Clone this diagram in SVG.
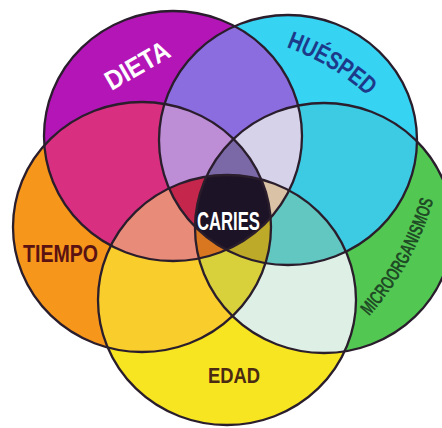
<svg xmlns="http://www.w3.org/2000/svg" width="442" height="428" viewBox="0 0 442 428">
<style>
.ol{fill:none;stroke:#2a1d2c;stroke-width:2.3}
.lbl{font-family:"Liberation Sans",Arial,sans-serif;font-weight:bold}
</style>
<defs>
<ellipse id="eD" cx="173" cy="136" rx="129" ry="125"/>
<ellipse id="eH" cx="288" cy="140" rx="129" ry="125"/>
<ellipse id="eM" cx="324" cy="228" rx="129" ry="125"/>
<ellipse id="eE" cx="227" cy="300" rx="129" ry="125"/>
<ellipse id="eT" cx="142" cy="227" rx="129" ry="125"/>
<clipPath id="cD"><use href="#eD"/></clipPath>
<clipPath id="cH"><use href="#eH"/></clipPath>
<clipPath id="cM"><use href="#eM"/></clipPath>
<clipPath id="cE"><use href="#eE"/></clipPath>
<clipPath id="cT"><use href="#eT"/></clipPath>
<path id="pH" d="M205,32 A250,250 0 0 1 419.3,160.8"/>
<path id="pM" d="M321.8,359.2 A300,300 0 0 0 444.8,137.4"/>
</defs>
<rect width="442" height="428" fill="#ffffff"/>
<g id="regions">
<use href="#eD" fill="#B315B6"/>
<use href="#eH" fill="#36D3F3"/>
<use href="#eM" fill="#52C853"/>
<use href="#eE" fill="#F6E520"/>
<use href="#eT" fill="#F6961B"/>
<g clip-path="url(#cD)"><use href="#eH" fill="#8B6DE0"/></g>
<g clip-path="url(#cD)"><use href="#eM" fill="#C8A8E0"/></g>
<g clip-path="url(#cD)"><use href="#eE" fill="#E99080"/></g>
<g clip-path="url(#cD)"><use href="#eT" fill="#D92F80"/></g>
<g clip-path="url(#cH)"><use href="#eM" fill="#3CCBE3"/></g>
<g clip-path="url(#cH)"><use href="#eE" fill="#90D8C8"/></g>
<g clip-path="url(#cH)"><use href="#eT" fill="#A28FD0"/></g>
<g clip-path="url(#cM)"><use href="#eE" fill="#DEF0E6"/></g>
<g clip-path="url(#cM)"><use href="#eT" fill="#C8C060"/></g>
<g clip-path="url(#cE)"><use href="#eT" fill="#F9CD2C"/></g>
<g clip-path="url(#cD)"><g clip-path="url(#cH)"><use href="#eT" fill="#BD8ED6"/></g></g>
<g clip-path="url(#cD)"><g clip-path="url(#cH)"><use href="#eM" fill="#D6D2EA"/></g></g>
<g clip-path="url(#cD)"><g clip-path="url(#cH)"><use href="#eE" fill="#D0A8C0"/></g></g>
<g clip-path="url(#cD)"><g clip-path="url(#cT)"><use href="#eE" fill="#E88B79"/></g></g>
<g clip-path="url(#cD)"><g clip-path="url(#cT)"><use href="#eM" fill="#C88080"/></g></g>
<g clip-path="url(#cD)"><g clip-path="url(#cM)"><use href="#eE" fill="#E0C8B0"/></g></g>
<g clip-path="url(#cH)"><g clip-path="url(#cM)"><use href="#eE" fill="#62C6C1"/></g></g>
<g clip-path="url(#cH)"><g clip-path="url(#cM)"><use href="#eT" fill="#9090C0"/></g></g>
<g clip-path="url(#cH)"><g clip-path="url(#cT)"><use href="#eE" fill="#C8C080"/></g></g>
<g clip-path="url(#cT)"><g clip-path="url(#cE)"><use href="#eM" fill="#D8D13C"/></g></g>
<g clip-path="url(#cD)"><g clip-path="url(#cH)"><g clip-path="url(#cT)"><use href="#eM" fill="#7B69A7"/></g></g></g>
<g clip-path="url(#cD)"><g clip-path="url(#cH)"><g clip-path="url(#cT)"><use href="#eE" fill="#C5264C"/></g></g></g>
<g clip-path="url(#cD)"><g clip-path="url(#cH)"><g clip-path="url(#cM)"><use href="#eE" fill="#D9C2A5"/></g></g></g>
<g clip-path="url(#cD)"><g clip-path="url(#cT)"><g clip-path="url(#cE)"><use href="#eM" fill="#D8771F"/></g></g></g>
<g clip-path="url(#cH)"><g clip-path="url(#cM)"><g clip-path="url(#cE)"><use href="#eT" fill="#BDAA28"/></g></g></g>
<g clip-path="url(#cD)"><g clip-path="url(#cH)"><g clip-path="url(#cM)"><g clip-path="url(#cE)"><use href="#eT" fill="#1C1326"/></g></g></g></g>
</g>
<g id="tiempo"><use href="#eT" class="ol"/><text class="lbl" fill="#5a1212" font-size="24" x="23" y="262" textLength="75" lengthAdjust="spacingAndGlyphs">TIEMPO</text></g>
<g id="edad"><use href="#eE" class="ol"/><text class="lbl" fill="#4a2a12" font-size="22" x="208" y="383" textLength="52" lengthAdjust="spacingAndGlyphs">EDAD</text></g>
<g id="microorganismos"><use href="#eM" class="ol"/><text class="lbl" fill="#1f4b25" font-size="19.5" text-anchor="middle"><textPath href="#pM" startOffset="50%" textLength="134" lengthAdjust="spacingAndGlyphs">MICROORGANISMOS</textPath></text></g>
<g id="huesped"><use href="#eH" class="ol"/><text class="lbl" fill="#1d3a8a" font-size="25" text-anchor="middle"><textPath href="#pH" startOffset="50%" textLength="96" lengthAdjust="spacingAndGlyphs">HUÉSPED</textPath></text></g>
<g id="dieta"><use href="#eD" class="ol"/><text class="lbl" fill="#ffffff" font-size="27" transform="translate(141.8,73.4) rotate(-30)" x="-35" y="0" textLength="70" lengthAdjust="spacingAndGlyphs">DIETA</text></g>
<g id="caries"><text class="lbl" fill="#ffffff" font-size="25" x="197" y="230" textLength="63" lengthAdjust="spacingAndGlyphs">CARIES</text></g>
</svg>
